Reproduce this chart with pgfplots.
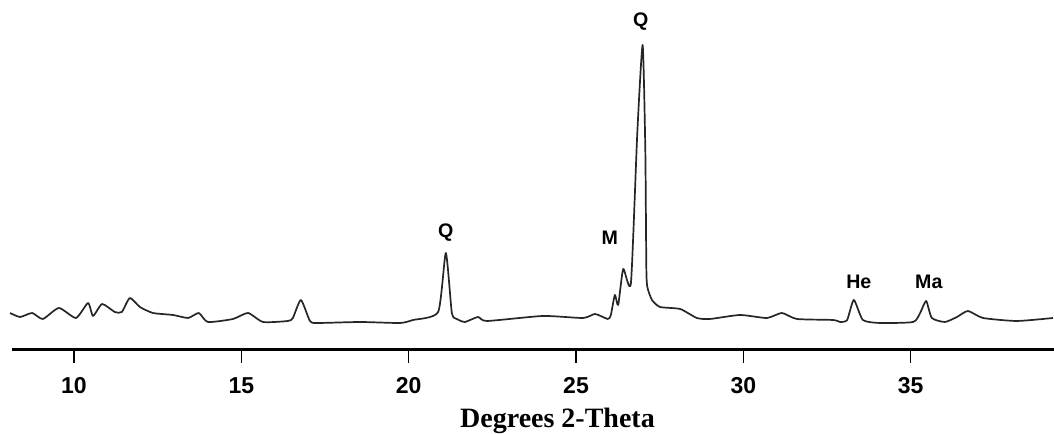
\documentclass[border=0pt]{standalone}
\usepackage{pgfplots}
\pgfplotsset{compat=1.18}
\usepackage{fontspec}
\setmainfont{Liberation Serif}
\newfontfamily\arial{Liberation Sans}
\pgfplotstableread{
x y
8.09 37
8.39 33
8.75 37
9.07 31
9.55 42
10.06 32
10.42 47
10.57 34
10.84 46
11.22 38
11.43 38
11.67 52
11.97 43
12.36 37
12.96 35
13.41 32
13.73 37
14.00 28
14.75 31
15.20 37
15.65 28
16.39 29
16.54 32
16.78 50
17.05 29
17.26 27
18.55 28
19.74 27
20.13 30
20.88 38
21.11 97
21.29 37
21.44 31
21.68 28
22.07 33
22.34 29
24.01 34
25.21 32
25.57 36
25.95 31
26.04 35
26.16 55
26.26 45
26.41 81
26.64 67
26.83 217
26.99 305
27.07 200
27.10 83
27.13 63
27.27 50
27.51 43
28.11 41
28.61 32
29.00 31
29.90 35
30.70 32
31.15 37
31.60 31
32.68 30
32.89 28
33.10 30
33.30 50
33.57 30
34.08 27
35.07 28
35.28 37
35.46 49
35.63 32
36.02 28
36.38 33
36.71 39
37.16 32
38.17 29
39.25 32
}\xrd
\begin{document}
\begin{tikzpicture}
\begin{axis}[
  scale only axis,
  width=521pt, height=175pt,
  xmin=8.15, xmax=39.28,
  ymin=0, ymax=350,
  axis x line=bottom,
  axis y line=none,
  axis line style={line width=1.5pt, -},
  xtick={10,15,20,25,30,35},
  xtick align=outside,
  major tick length=6.5pt,
  tick style={black, line width=0.6pt},
  /pgf/number format/assume math mode=true,
  xticklabel style={font=\arial\bfseries\fontsize{11.5}{13}\selectfont, text height=8.4pt, text depth=0pt, yshift=-3.5pt},
  xlabel={\bfseries\fontsize{14}{16}\selectfont Degrees 2-Theta},
  xlabel style={at={(axis description cs:0.5235,-0.2229)}, anchor=base, inner sep=0pt},
  clip=false,
]
\addplot[line width=0.85pt, color=black!85, line join=round, smooth, tension=0.35] table {\xrd};
\coordinate (bl) at (axis cs:7.79,-84);
\coordinate (tr) at (axis cs:39.28,350);
\begin{scope}[every node/.style={inner sep=0pt, font=\arial\bfseries\fontsize{9.8}{11}\selectfont}]
\node at (axis cs:21.11,117) {Q};
\node at (axis cs:26.01,112) {M};
\node at (axis cs:26.93,328) {Q};
\node at (axis cs:33.45,68) {He};
\node at (axis cs:35.54,68) {Ma};
\end{scope}
\end{axis}
\pgfresetboundingbox
\useasboundingbox (bl) rectangle (tr);
\end{tikzpicture}
\end{document}
